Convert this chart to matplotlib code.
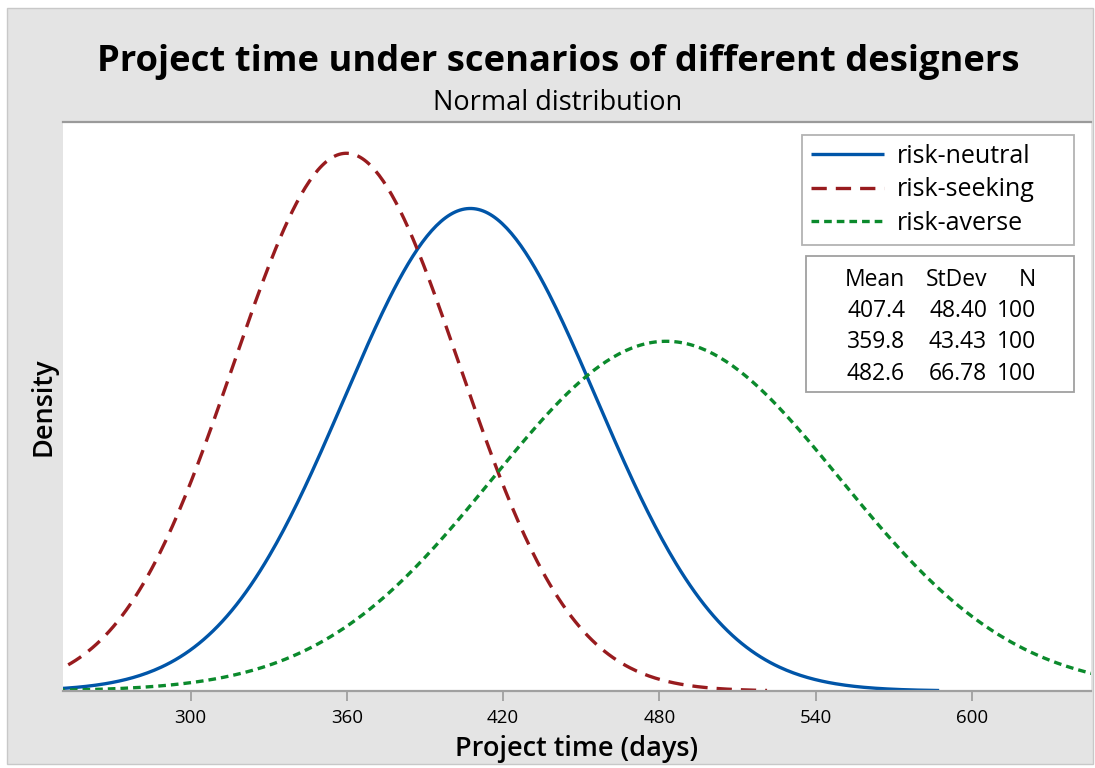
import numpy as np
import matplotlib
matplotlib.use("Agg")
import matplotlib.pyplot as plt
from matplotlib.patches import Rectangle

plt.rcParams['font.family'] = ['Open Sans', 'DejaVu Sans']
plt.rcParams['lines.scale_dashes'] = False

# ---- data ----
series = ["risk-neutral", "risk-seeking", "risk-averse"]
means = [407.4, 359.8, 482.6]
stdevs = [48.40, 43.43, 66.78]
counts = [100, 100, 100]
xticks = [300, 360, 420, 480, 540, 600]

colors = ["#0055a8", "#981b1e", "#0b8a2c"]
dashes = [None, (11, 6.5), (5.5, 3.6)]

W, H = 1095, 768
fig = plt.figure(figsize=(W / 100, H / 100), dpi=100, facecolor="white")

def fx(px):
    return px / W

def fy(py):
    return 1 - py / H

# grey background panel
fig.patches.append(Rectangle((fx(7), fy(764)), fx(1093) - fx(7), fy(8) - fy(764),
                             transform=fig.transFigure, facecolor="#e4e4e4",
                             edgecolor="#c8c8c8", linewidth=1.0, zorder=-10))

ax = fig.add_axes([fx(63), fy(691), fx(1091) - fx(63), fy(122) - fy(691)])
ax.set_facecolor("white")

z = 3.719
handles = []
for name, m, s, c, d in zip(series, means, stdevs, colors, dashes):
    x = np.linspace(m - z * s, m + z * s, 400)
    y = np.exp(-0.5 * ((x - m) / s) ** 2) / (s * np.sqrt(2 * np.pi))
    ln, = ax.plot(x, y, color=c, linewidth=2.4, label=name, solid_capstyle="butt",
                  dash_capstyle="butt")
    if d is not None:
        ln.set_dashes(d)
    handles.append(ln)

ax.set_xlim(251.0, 645.7)
ax.set_ylim(0, 0.00972)
ax.set_xticks(xticks)
ax.set_yticks([])
for side in ["left", "right"]:
    ax.spines[side].set_visible(False)
ax.spines["top"].set_color("#9a9a9a")
ax.spines["top"].set_linewidth(1.6)
ax.spines["bottom"].set_color("#a0a0a0")
ax.spines["bottom"].set_linewidth(1.6)
ax.tick_params(axis="x", direction="out", length=7, width=1.3, color="#a0a0a0",
               labelsize=13.5, pad=6, labelcolor="black")

ax.set_xlabel("Project time (days)", fontsize=19.5, fontweight="semibold", labelpad=6)
ax.set_ylabel("Density", fontsize=19.5, fontweight="semibold", labelpad=4)

fig.text(fx(558), fy(62), "Project time under scenarios of different designers",
         ha="center", va="center", fontsize=26.2, fontweight="bold")
fig.text(fx(558), fy(103), "Normal distribution", ha="center", va="center",
         fontsize=19.5)

leg = ax.legend(handles=handles, loc="upper left", mode="expand",
                bbox_to_anchor=(fx(802), fy(242), fx(1074) - fx(802), fy(135) - fy(242)),
                bbox_transform=fig.transFigure,
                borderaxespad=0, fontsize=18, handlelength=2.9, handletextpad=0.55,
                labelspacing=0.33, frameon=True, fancybox=False, borderpad=0.36)
leg.get_frame().set_edgecolor("#a0a0a0")
leg.get_frame().set_linewidth(1.3)

# statistics table
fig.patches.append(Rectangle((fx(806), fy(392)), fx(1074) - fx(806), fy(256) - fy(392),
                             transform=fig.transFigure, facecolor="white",
                             edgecolor="#a0a0a0", linewidth=1.3, zorder=3))
col_right = [905, 987, 1036]
row_y = [280, 311, 342, 374]
headers = ["Mean", "StDev", "N"]
for j, h in enumerate(headers):
    fig.text(fx(col_right[j]), fy(row_y[0]), h, ha="right", va="center", fontsize=16.5, zorder=4)
for i in range(len(series)):
    vals = [f"{means[i]:.1f}", f"{stdevs[i]:.2f}", f"{counts[i]}"]
    for j, v in enumerate(vals):
        fig.text(fx(col_right[j]), fy(row_y[i + 1]), v, ha="right", va="center",
                 fontsize=16.5, zorder=4)

fig.savefig("out.png", dpi=100, facecolor="white")
